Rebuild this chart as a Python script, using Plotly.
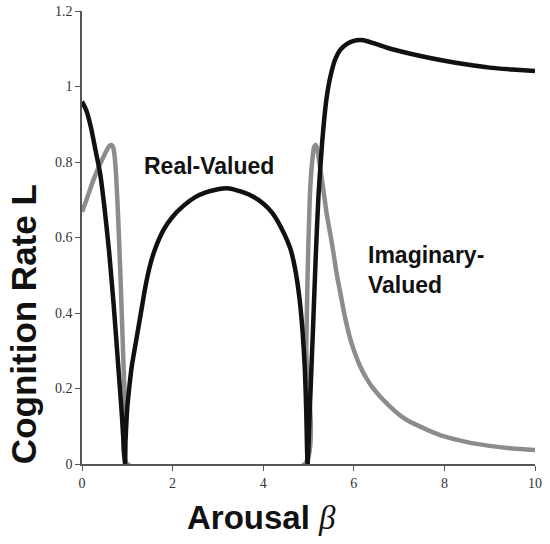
import plotly.graph_objects as go

# Black curve (real-valued branch)
black_x = [0, 0.1, 0.2, 0.3, 0.4, 0.5, 0.6, 0.7, 0.8, 0.88, 0.95,
           0.96, 0.98, 1.0, 1.05, 1.1, 1.2, 1.3, 1.4, 1.5, 1.6, 1.8, 2.0, 2.25, 2.5, 2.75,
           3.0, 3.25, 3.5, 3.75, 4.0, 4.2, 4.4, 4.6, 4.7, 4.8, 4.87, 4.92, 4.95, 4.98,
           5.03, 5.1, 5.16, 5.22, 5.3, 5.4, 5.5, 5.6, 5.7, 5.85, 6.0, 6.15, 6.3, 6.5,
           6.75, 7.0, 7.5, 8.0, 8.5, 9.0, 9.5, 10]
black_y = [0.96, 0.935, 0.89, 0.83, 0.77, 0.675, 0.56, 0.42, 0.26, 0.13, 0.0,
           0.06, 0.11, 0.15, 0.21, 0.26, 0.33, 0.40, 0.47, 0.525, 0.565, 0.62, 0.655, 0.685, 0.707, 0.72,
           0.728, 0.73, 0.722, 0.71, 0.69, 0.665, 0.625, 0.57, 0.52, 0.44, 0.35, 0.25, 0.14, 0.0,
           0.15, 0.36, 0.55, 0.71, 0.85, 0.97, 1.035, 1.075, 1.097, 1.113, 1.121, 1.123, 1.12, 1.112,
           1.102, 1.094, 1.08, 1.068, 1.058, 1.05, 1.045, 1.041]

# Grey curve (imaginary-valued branch)
grey_x = [0, 0.1, 0.25, 0.4, 0.5, 0.56, 0.61, 0.65, 0.69, 0.72, 0.75, 0.78, 0.82, 0.86, 0.9, 0.95, 1.0,
          4.92, 4.95, 4.98, 5.03, 5.08, 5.12, 5.16, 5.2, 5.25, 5.33, 5.4, 5.48, 5.55, 5.62, 5.7, 5.77,
          5.85, 5.92, 6.0, 6.1, 6.2, 6.3, 6.4, 6.5, 6.6, 6.75, 6.95, 7.1, 7.25, 7.5, 7.75, 8.0, 8.5,
          9.0, 9.5, 10]
grey_y = [0.668, 0.7, 0.752, 0.795, 0.82, 0.834, 0.843, 0.845, 0.838, 0.815, 0.77, 0.7, 0.59, 0.46,
          0.32, 0.15, 0.0,
          0.0, 0.3, 0.5, 0.71, 0.8, 0.838, 0.845, 0.83, 0.79, 0.725, 0.664, 0.61, 0.56, 0.505, 0.455, 0.41,
          0.365, 0.332, 0.302, 0.27, 0.244, 0.223, 0.205, 0.19, 0.176, 0.158, 0.136, 0.122, 0.111, 0.097,
          0.084, 0.073, 0.058, 0.048, 0.041, 0.037]

x_ticks = [0, 2, 4, 6, 8, 10]
y_ticks = [0, 0.2, 0.4, 0.6, 0.8, 1, 1.2]

fig = go.Figure()
fig.add_trace(go.Scatter(x=grey_x, y=grey_y, mode="lines",
                         line=dict(color="#8c8c8c", width=4.5, shape="spline", smoothing=0.6),
                         showlegend=False))
fig.add_trace(go.Scatter(x=black_x, y=black_y, mode="lines",
                         line=dict(color="#111111", width=4.5, shape="spline", smoothing=0.6),
                         showlegend=False))

axis_common = dict(showgrid=False, zeroline=False, showline=True, linecolor="#555555",
                   linewidth=1.5, ticks="outside", ticklen=5, tickwidth=1.2, tickcolor="#555555",
                   automargin=False,
                   tickfont=dict(family="Liberation Serif", size=14, color="#333333"))
fig.update_xaxes(range=[0, 10], tickvals=x_ticks, **axis_common)
fig.update_yaxes(range=[0, 1.2], tickvals=y_ticks, **axis_common)

ann_font = dict(family="Liberation Sans", size=23, color="#111111")
fig.add_annotation(x=2.8, y=0.789, xref="x", yref="y", text="<b>Real-Valued</b>",
                   showarrow=False, font=ann_font, xanchor="center", yanchor="middle")
fig.add_annotation(x=6.27, y=0.514, xref="x", yref="y", text="<b>Imaginary-<br>Valued</b>",
                   showarrow=False, font=ann_font, xanchor="left", yanchor="middle", align="left")

fig.add_annotation(x=0.397, y=-0.117, xref="paper", yref="paper",
                   text="<b>Arousal</b> <span style='font-family:Liberation Serif'><i>β</i></span>",
                   showarrow=False, font=dict(family="Liberation Sans", size=33, color="#111111"),
                   xanchor="center", yanchor="middle")
fig.add_annotation(x=-0.13, y=0.309, xref="paper", yref="paper", text="<b>Cognition Rate L</b>",
                   textangle=-90, showarrow=False, xanchor="center", yanchor="middle",
                   font=dict(family="Liberation Sans", size=35, color="#111111"))

fig.update_layout(width=550, height=544, margin=dict(l=82, r=15, t=11, b=80, autoexpand=False),
                  plot_bgcolor="white", paper_bgcolor="white")

fig.write_html("out.html", config={"displayModeBar": False},
               post_script="document.body.style.margin='0';document.body.style.overflow='hidden';")
